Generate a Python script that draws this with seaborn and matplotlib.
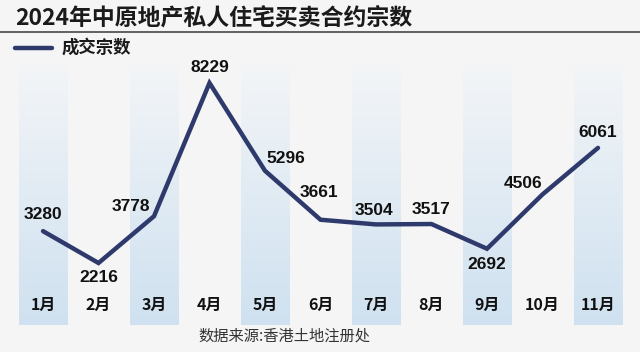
import numpy as np
import matplotlib.pyplot as plt
import matplotlib.transforms as mtransforms
from matplotlib.colors import LinearSegmentedColormap
import seaborn as sns

# ----- data -----
months = ['1月', '2月', '3月', '4月', '5月', '6月', '7月', '8月', '9月', '10月', '11月']
deals = [3280, 2216, 3778, 8229, 5296, 3661, 3504, 3517, 2692, 4506, 6061]
# label offset (pixels, x right / y up) so numbers sit clear of the line
label_dx = [0, 0, -23, 0, 21, -2, -2, 0, 0, -19, 0]
label_dy = [17, -15, 10, 15, 12, 27, 14, 15, -16, 11, 15]

title = '2024年中原地产私人住宅买卖合约宗数'
legend_label = '成交宗数'
source = '数据来源:香港土地注册处'

navy = '#2f3a6c'
bg = '#f5f5f5'

sns.set_theme(style='white')
plt.rcParams['font.family'] = ['Liberation Sans', 'Noto Sans CJK SC', 'DejaVu Sans']
cjk = ['Noto Sans CJK SC', 'DejaVu Sans']

fig = plt.figure(figsize=(6.4, 3.52), dpi=100, facecolor=bg)
ax = fig.add_axes([0, 0, 1, 1])
ax.set_facecolor(bg)

x = np.arange(len(months))
ax.set_xlim(-0.775, 10.757)
ax.set_ylim(-757, 11000)
ax.axis('off')

# gradient bands behind odd months
band_cmap = LinearSegmentedColormap.from_list('band', ['#cfe1f0', '#f3f5f7'])
grad = np.linspace(0, 1, 256).reshape(-1, 1)
for i in range(0, len(months), 2):
    ax.imshow(grad, cmap=band_cmap, aspect='auto', origin='lower',
              extent=(i - 0.44, i + 0.44, 150, 8850), zorder=0)

sns.lineplot(x=x, y=deals, ax=ax, color=navy, linewidth=3.2, zorder=3,
             solid_joinstyle='miter')
ax.set_xlim(-0.775, 10.757)
ax.set_ylim(-757, 11000)

for xi, v, dx, dy in zip(x, deals, label_dx, label_dy):
    ax.annotate(f'{v}', (xi, v), xytext=(dx, dy), textcoords='offset pixels',
                ha='center', va='center', fontsize=12.5, fontweight='bold',
                color='#111111', zorder=4)

# month labels along the bottom
trans = mtransforms.blended_transform_factory(ax.transData, ax.transAxes)
for xi, m in zip(x, months):
    ax.text(xi, 1 - 305 / 352, m, transform=trans, ha='center', va='center',
            fontsize=11.5, fontweight='bold', color='#111111', family=cjk)

# title, rule, legend, source
fig.text(15 / 640, 1 - 18 / 352, title, ha='left', va='center', fontsize=16.5,
         fontweight='bold', color='#1a1a1a', family=cjk)
fig.add_artist(plt.Line2D([0, 1], [1 - 32 / 352] * 2, color='#555555', linewidth=1.3))
fig.add_artist(plt.Line2D([15 / 640, 52 / 640], [1 - 48 / 352] * 2, color=navy,
                          linewidth=3.2))
fig.text(62 / 640, 1 - 48 / 352, legend_label, ha='left', va='center', fontsize=12.5,
         fontweight='bold', color='#1a1a1a', family=cjk)
fig.text(198 / 640, 1 - 336 / 352, source, ha='left', va='center', fontsize=11,
         color='#333333', family=cjk)

fig.savefig('out.png', dpi=100, facecolor=bg)
